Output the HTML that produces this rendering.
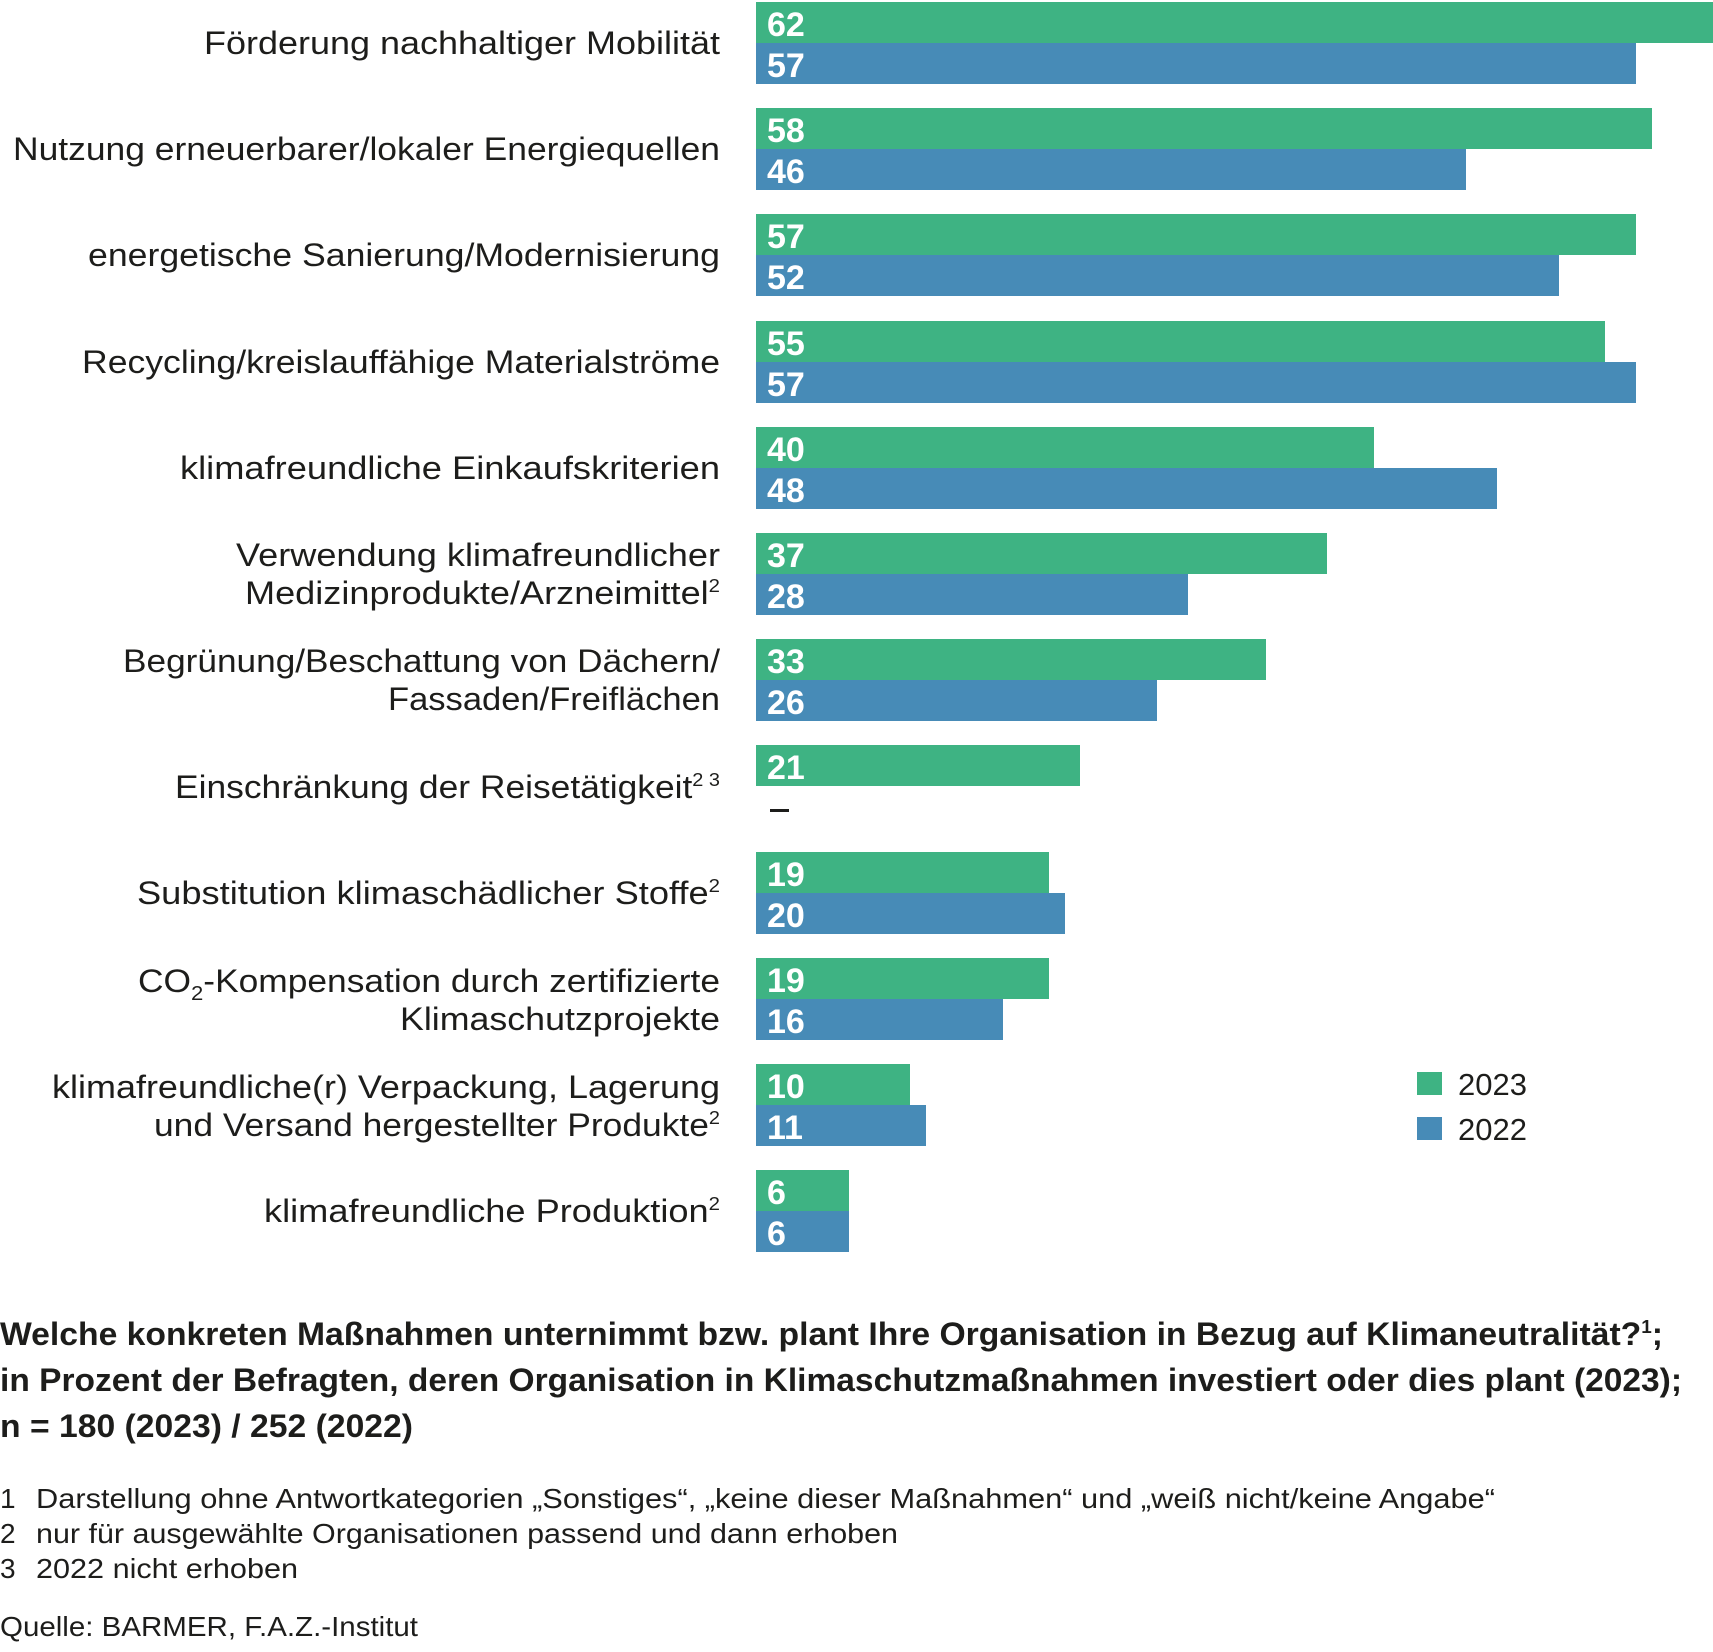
<!DOCTYPE html>
<html><head><meta charset="utf-8"><style>
html,body{margin:0;padding:0;background:#fff;}
svg{display:block;}
.l{font-family:"Liberation Sans",sans-serif;font-size:32px;fill:#1d1d1b;text-anchor:end;}
.v{font-family:"Liberation Sans",sans-serif;font-size:34px;font-weight:bold;fill:#fff;}
.t{font-family:"Liberation Sans",sans-serif;font-size:32px;font-weight:bold;fill:#1d1d1b;}
.f{font-family:"Liberation Sans",sans-serif;font-size:28px;fill:#1d1d1b;}
.g{fill:#3eb383}.b{fill:#478bb7}
</style></head><body>
<svg width="1713" height="1652" viewBox="0 0 1713 1652" xmlns="http://www.w3.org/2000/svg">
<g transform="translate(0,1)">
<rect class="g" x="756" y="1" width="957" height="41"/><rect class="b" x="756" y="42" width="880" height="41"/>
<rect class="g" x="756" y="107" width="896" height="41"/><rect class="b" x="756" y="148" width="710" height="41"/>
<rect class="g" x="756" y="213" width="880" height="41"/><rect class="b" x="756" y="254" width="803" height="41"/>
<rect class="g" x="756" y="320" width="849" height="41"/><rect class="b" x="756" y="361" width="880" height="41"/>
<rect class="g" x="756" y="426" width="618" height="41"/><rect class="b" x="756" y="467" width="741" height="41"/>
<rect class="g" x="756" y="532" width="571" height="41"/><rect class="b" x="756" y="573" width="432" height="41"/>
<rect class="g" x="756" y="638" width="510" height="41"/><rect class="b" x="756" y="679" width="401" height="41"/>
<rect class="g" x="756" y="744" width="324" height="41"/>
<rect x="770" y="808" width="19" height="3" fill="#1d1d1b"/>
<rect class="g" x="756" y="851" width="293" height="41"/><rect class="b" x="756" y="892" width="309" height="41"/>
<rect class="g" x="756" y="957" width="293" height="41"/><rect class="b" x="756" y="998" width="247" height="41"/>
<rect class="g" x="756" y="1063" width="154" height="41"/><rect class="b" x="756" y="1104" width="170" height="41"/>
<rect class="g" x="756" y="1169" width="93" height="41"/><rect class="b" x="756" y="1210" width="93" height="41"/>
</g>
<g class="v" transform="translate(0,3)">
<text x="767" y="33">62</text><text x="767" y="74">57</text>
<text x="767" y="139">58</text><text x="767" y="180">46</text>
<text x="767" y="245">57</text><text x="767" y="286">52</text>
<text x="767" y="352">55</text><text x="767" y="393">57</text>
<text x="767" y="458">40</text><text x="767" y="499">48</text>
<text x="767" y="564">37</text><text x="767" y="605">28</text>
<text x="767" y="670">33</text><text x="767" y="711">26</text>
<text x="767" y="776">21</text>
<text x="767" y="883">19</text><text x="767" y="924">20</text>
<text x="767" y="989">19</text><text x="767" y="1030">16</text>
<text x="767" y="1095">10</text><text x="767" y="1136">11</text>
<text x="767" y="1201">6</text><text x="767" y="1242">6</text>
</g>
<g class="l">
<text x="720" y="54" textLength="516" lengthAdjust="spacingAndGlyphs">Förderung nachhaltiger Mobilität</text>
<text x="720" y="160" textLength="707" lengthAdjust="spacingAndGlyphs">Nutzung erneuerbarer/lokaler Energiequellen</text>
<text x="720" y="266" textLength="632" lengthAdjust="spacingAndGlyphs">energetische Sanierung/Modernisierung</text>
<text x="720" y="373" textLength="638" lengthAdjust="spacingAndGlyphs">Recycling/kreislauffähige Materialströme</text>
<text x="720" y="479" textLength="540" lengthAdjust="spacingAndGlyphs">klimafreundliche Einkaufskriterien</text>
<text x="720" y="566" textLength="484" lengthAdjust="spacingAndGlyphs">Verwendung klimafreundlicher</text>
<text x="720" y="604" textLength="475" lengthAdjust="spacingAndGlyphs">Medizinprodukte/Arzneimittel<tspan font-size="18" dy="-12">2</tspan></text>
<text x="720" y="672" textLength="597" lengthAdjust="spacingAndGlyphs">Begrünung/Beschattung von Dächern/</text>
<text x="720" y="710" textLength="332" lengthAdjust="spacingAndGlyphs">Fassaden/Freiflächen</text>
<text x="720" y="798" textLength="545" lengthAdjust="spacingAndGlyphs">Einschränkung der Reisetätigkeit<tspan font-size="18" dy="-12">2 3</tspan></text>
<text x="720" y="904" textLength="583" lengthAdjust="spacingAndGlyphs">Substitution klimaschädlicher Stoffe<tspan font-size="18" dy="-12">2</tspan></text>
<text x="720" y="992" textLength="582" lengthAdjust="spacingAndGlyphs">CO<tspan font-size="20" dy="8">2</tspan><tspan dy="-8">-Kompensation durch zertifizierte</tspan></text>
<text x="720" y="1030" textLength="320" lengthAdjust="spacingAndGlyphs">Klimaschutzprojekte</text>
<text x="720" y="1098" textLength="668" lengthAdjust="spacingAndGlyphs">klimafreundliche(r) Verpackung, Lagerung</text>
<text x="720" y="1136" textLength="566" lengthAdjust="spacingAndGlyphs">und Versand hergestellter Produkte<tspan font-size="18" dy="-12">2</tspan></text>
<text x="720" y="1222" textLength="456" lengthAdjust="spacingAndGlyphs">klimafreundliche Produktion<tspan font-size="18" dy="-12">2</tspan></text>
</g>
<rect class="g" x="1417" y="1072" width="25" height="23"/>
<rect class="b" x="1417" y="1117" width="25" height="23"/>
<text class="f" x="1458" y="1095" style="font-size:31px">2023</text>
<text class="f" x="1458" y="1140" style="font-size:31px">2022</text>
<text class="t" x="0" y="1345" textLength="1663" lengthAdjust="spacingAndGlyphs">Welche konkreten Maßnahmen unternimmt bzw. plant Ihre Organisation in Bezug auf Klimaneutralität?<tspan font-size="18" dy="-12">1</tspan><tspan dy="12">;</tspan></text>
<text class="t" x="0" y="1391" textLength="1682" lengthAdjust="spacingAndGlyphs">in Prozent der Befragten, deren Organisation in Klimaschutzmaßnahmen investiert oder dies plant (2023);</text>
<text class="t" x="0" y="1437" textLength="413" lengthAdjust="spacingAndGlyphs">n = 180 (2023) / 252 (2022)</text>
<g class="f">
<text x="0" y="1508">1</text><text x="36" y="1508" textLength="1459" lengthAdjust="spacingAndGlyphs">Darstellung ohne Antwortkategorien „Sonstiges“, „keine dieser Maßnahmen“ und „weiß nicht/keine Angabe“</text>
<text x="0" y="1543">2</text><text x="36" y="1543" textLength="862" lengthAdjust="spacingAndGlyphs">nur für ausgewählte Organisationen passend und dann erhoben</text>
<text x="0" y="1578">3</text><text x="36" y="1578" textLength="262" lengthAdjust="spacingAndGlyphs">2022 nicht erhoben</text>
<text x="0" y="1636" textLength="418" lengthAdjust="spacingAndGlyphs">Quelle: BARMER, F.A.Z.-Institut</text>
</g>
</svg>
</body></html>
